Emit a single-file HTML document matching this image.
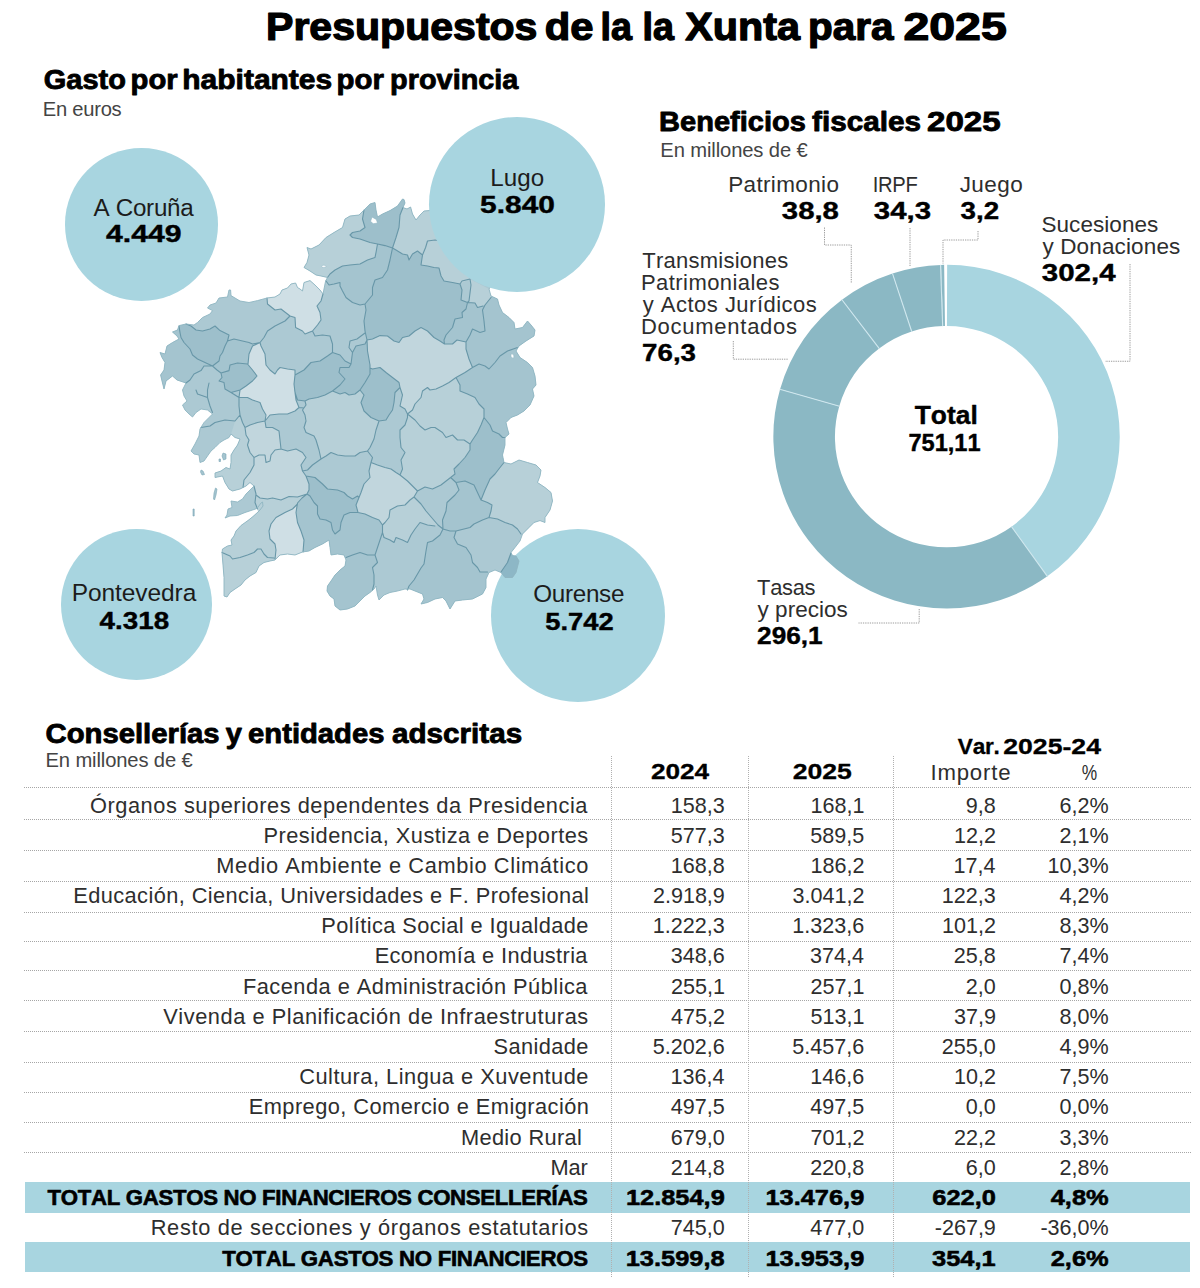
<!DOCTYPE html>
<html lang="es"><head><meta charset="utf-8"><title>Presupuestos de la Xunta para 2025</title>
<style>
html,body{margin:0;padding:0;background:#fff;}
body{width:1200px;height:1288px;position:relative;overflow:hidden;font-family:"Liberation Sans",sans-serif;color:#000;font-kerning:none;}
.tx text{white-space:pre;font-kerning:none;}
svg{position:absolute;left:0;top:0;}
.circ{position:absolute;border-radius:50%;background:#a8d5e0;}
.hl{position:absolute;left:23.5px;width:1167.5px;height:1px;background:repeating-linear-gradient(90deg,#a6a6a6 0 1px,transparent 1px 2px);}
.vl{position:absolute;top:756px;width:1px;height:521px;background:repeating-linear-gradient(180deg,#b0b0b0 0 1px,transparent 1px 2px);}
.band{position:absolute;left:25px;width:1165px;background:#a8d5e0;}
</style></head><body>
<div class="circ" style="left:64.5px;top:148.4px;width:153px;height:152.4px"></div>
<div class="circ" style="left:60.9px;top:529px;width:151.4px;height:151.2px"></div>
<div class="circ" style="left:491px;top:528.8px;width:174.2px;height:173px"></div>
<svg width="1200" height="1288" viewBox="0 0 1200 1288">
<path d="M404.0 199.5 L405.0 203.0 L403.0 207.5 L407.0 209.0 L410.6 207.0 L412.5 214.0 L416.0 220.0 L420.0 215.0 L424.0 211.0 L429.0 210.6 L440.0 208.0 L470.0 215.0 L500.0 230.0 L505.0 260.0 L495.0 280.0 L489.0 289.0 L491.0 296.0 L497.5 299.0 L499.0 305.0 L502.5 312.5 L509.0 317.5 L514.0 322.5 L515.0 329.0 L522.5 327.5 L527.5 321.0 L531.0 325.0 L535.0 330.0 L534.0 336.0 L526.0 341.0 L519.0 346.0 L516.0 351.0 L520.0 357.5 L527.5 362.5 L532.5 367.5 L535.0 376.0 L536.0 385.0 L532.5 389.0 L534.0 396.0 L530.0 405.0 L524.0 411.0 L517.5 415.0 L511.0 417.5 L506.0 422.5 L507.5 429.0 L509.0 434.0 L505.0 437.5 L505.0 445.0 L502.5 455.0 L504.0 462.5 L511.0 464.0 L519.0 460.0 L527.5 462.5 L536.0 465.0 L541.0 470.0 L540.0 476.0 L537.5 482.5 L545.0 487.5 L551.0 492.5 L552.5 501.0 L550.0 510.0 L545.0 517.5 L545.0 522.5 L540.0 520.6 L534.0 522.5 L529.0 527.5 L522.5 534.0 L520.0 541.0 L515.0 547.5 L511.0 552.5 L512.5 555.6 L516.0 556.0 L519.0 561.0 L516.0 572.5 L512.5 577.5 L505.0 577.5 L501.0 572.5 L495.0 570.0 L489.0 572.5 L486.0 579.0 L486.0 587.5 L482.5 594.0 L472.5 599.0 L462.5 600.0 L455.0 601.0 L450.0 609.0 L446.0 601.0 L442.5 597.5 L435.0 599.0 L427.5 602.5 L421.0 604.0 L424.0 599.0 L422.5 594.0 L415.0 591.0 L410.0 589.0 L405.0 589.0 L397.5 591.0 L390.0 592.5 L384.0 595.0 L379.0 600.0 L377.5 595.0 L376.0 586.0 L374.0 589.0 L370.0 592.5 L365.0 596.0 L360.0 601.0 L355.0 606.0 L347.5 609.0 L340.0 610.0 L335.0 606.0 L334.0 599.0 L330.0 596.0 L327.0 591.0 L327.5 586.0 L331.0 581.0 L335.0 575.0 L340.0 570.0 L345.0 566.0 L346.0 560.0 L344.0 555.0 L337.5 554.0 L331.0 555.0 L330.0 547.5 L329.0 540.0 L322.5 544.0 L315.0 547.5 L309.0 551.0 L302.5 552.0 L295.0 555.0 L287.5 554.0 L280.0 555.0 L275.0 560.0 L270.0 561.0 L264.0 562.5 L259.0 566.0 L256.0 572.5 L250.0 576.0 L245.0 580.0 L241.0 585.0 L235.0 589.0 L230.0 592.5 L227.0 597.0 L224.0 596.0 L224.0 590.0 L224.0 577.5 L223.0 565.0 L222.0 552.5 L222.5 549.0 L227.5 546.0 L232.0 545.0 L231.0 540.0 L234.0 536.0 L236.0 531.0 L241.0 525.5 L248.0 520.5 L253.0 516.5 L258.0 512.0 L260.0 510.0 L263.0 506.0 L262.5 502.0 L261.0 503.0 L257.0 508.5 L251.0 510.5 L245.0 512.5 L237.5 515.5 L230.0 516.0 L225.0 518.0 L227.0 515.0 L228.0 509.0 L232.0 507.5 L231.0 501.0 L237.5 502.0 L242.5 499.0 L246.0 494.0 L250.0 490.0 L254.0 486.0 L250.0 482.5 L246.0 486.0 L240.0 489.0 L232.5 491.0 L229.0 489.0 L225.0 482.5 L222.5 476.0 L215.0 477.5 L215.0 473.0 L221.0 471.0 L226.0 467.5 L230.0 469.0 L231.0 462.5 L231.0 455.0 L234.0 450.0 L237.5 445.0 L240.0 439.0 L235.0 437.5 L231.0 434.0 L229.0 437.5 L224.0 440.0 L220.0 442.5 L215.0 447.5 L211.0 451.0 L207.5 456.0 L204.0 461.0 L200.0 462.5 L199.0 455.0 L194.0 454.0 L191.0 451.0 L195.0 444.0 L199.0 436.0 L200.0 429.0 L204.0 422.5 L209.0 417.5 L212.5 414.0 L207.5 410.0 L201.0 409.0 L196.0 412.5 L192.5 417.0 L189.0 414.0 L185.0 410.0 L182.5 405.0 L187.0 401.0 L184.0 396.0 L182.5 390.0 L186.0 383.0 L177.0 380.0 L172.5 376.0 L166.0 381.0 L164.0 389.0 L162.0 381.0 L160.6 375.0 L164.0 370.0 L165.0 362.5 L162.0 357.5 L160.0 352.5 L165.0 354.0 L167.0 346.0 L172.5 342.5 L179.0 339.0 L177.0 336.0 L172.5 332.0 L177.5 330.0 L179.0 325.6 L186.0 324.0 L194.0 325.0 L197.5 322.5 L202.5 317.5 L210.0 314.0 L212.5 310.6 L207.5 308.0 L210.0 305.0 L216.0 303.0 L219.0 298.0 L227.5 297.0 L229.0 290.0 L230.6 290.0 L231.0 295.6 L235.0 298.0 L240.0 301.0 L249.0 302.5 L257.5 300.6 L267.0 298.0 L275.0 297.0 L280.0 294.0 L282.0 290.0 L287.5 288.0 L291.0 284.0 L295.6 283.0 L297.5 287.5 L300.0 289.0 L302.5 291.0 L304.0 282.5 L310.0 280.6 L315.0 285.0 L320.0 290.0 L323.0 294.0 L325.6 281.0 L327.5 277.5 L321.0 276.0 L316.0 275.0 L310.0 271.0 L304.0 267.5 L307.0 262.5 L309.0 255.0 L307.0 247.5 L311.0 249.0 L319.0 245.0 L326.0 237.5 L334.0 232.5 L342.5 227.5 L345.0 219.0 L350.0 216.0 L359.0 215.0 L364.0 210.0 L370.0 204.0 L375.0 202.5 L376.0 210.0 L377.5 217.0 L382.5 214.0 L390.0 210.6 L397.5 206.0 L402.5 199.0Z" fill="#acc9d3"/>
<path d="M201.0 470.0 L203.0 471.0 L204.5 474.5 L202.0 475.0 L200.5 472.0Z" fill="#a4c4cf"/>
<path d="M215.5 488.0 L217.0 489.0 L216.0 495.0 L214.5 500.0 L213.5 499.0 L214.0 493.0Z" fill="#a4c4cf"/>
<path d="M223.0 453.0 L226.0 454.0 L226.0 459.0 L223.5 460.0 L222.0 456.0Z" fill="#a4c4cf"/>
<path d="M219.0 459.0 L220.5 459.0 L220.5 461.5 L219.0 461.5Z" fill="#a4c4cf"/>
<path d="M193.0 509.0 L194.2 509.0 L194.2 516.0 L193.0 516.0Z" fill="#a4c4cf"/>
<path d="M267.0 298.0 L275.0 297.0 L280.0 294.0 L282.0 290.0 L287.5 288.0 L291.0 284.0 L295.6 283.0 L297.5 287.5 L300.0 289.0 L302.5 291.0 L304.0 282.5 L310.0 280.6 L315.0 285.0 L320.0 290.0 L323.0 294.0 L323.0 294.0 L321.0 301.0 L317.0 306.0 L320.0 312.5 L321.0 320.0 L317.5 325.0 L312.5 331.0 L312.5 331.0 L305.0 334.0 L302.5 331.0 L295.6 327.5 L295.0 317.5 L290.0 316.0 L290.0 316.0 L281.0 309.0 L275.0 310.0 L267.5 304.0 L267.0 298.0Z" fill="#cfdfe5"/>
<path d="M260.0 342.5 L252.5 346.0 L249.0 354.0 L248.0 364.0 L252.5 370.0 L257.0 376.0 L252.5 381.0 L246.0 386.0 L240.0 390.0 L240.0 390.0 L239.0 397.5 L239.0 397.5 L247.5 397.5 L252.5 400.0 L260.0 402.5 L262.5 409.0 L266.0 415.0 L265.0 421.0 L265.0 421.0 L270.0 415.0 L279.0 414.0 L287.5 414.0 L295.0 411.0 L299.0 407.5 L299.0 407.5 L296.0 400.0 L295.0 392.5 L294.0 384.0 L295.0 375.0 L295.0 375.0 L295.0 370.0 L287.5 369.0 L280.0 367.5 L277.5 370.0 L275.0 374.0 L270.0 370.0 L266.0 365.0 L265.0 354.0 L261.0 346.0 L260.0 342.5Z" fill="#cfdfe5"/>
<path d="M297.5 504.0 L292.5 509.0 L285.0 512.5 L276.0 517.5 L271.0 524.0 L269.0 531.0 L270.0 539.0 L275.0 544.0 L276.0 550.0 L275.0 559.0 L280.0 555.0 L287.5 554.0 L295.0 555.0 L302.5 552.0 L303.0 552.0 L304.0 540.0 L301.0 531.0 L297.5 522.5 L296.0 512.5 L297.5 503.0Z" fill="#cfdfe5"/>
<path d="M367.0 340.0 L372.5 339.0 L380.0 335.6 L387.5 336.0 L394.0 341.0 L399.0 342.5 L402.5 337.5 L409.0 336.0 L415.0 331.0 L421.0 327.5 L427.5 331.0 L434.0 337.5 L440.0 341.0 L444.5 344.0 L444.5 344.0 L452.5 344.0 L457.0 340.0 L466.0 342.0 L466.0 349.0 L469.0 359.0 L472.5 367.5 L472.5 367.5 L465.0 372.5 L456.0 377.5 L449.0 382.5 L442.5 386.0 L436.0 389.0 L430.0 390.0 L427.5 387.5 L422.5 391.0 L421.0 397.5 L415.0 404.0 L412.5 410.0 L407.5 414.0 L407.5 414.0 L405.0 409.0 L400.0 406.0 L402.5 395.0 L400.0 387.5 L399.0 382.5 L392.5 377.5 L386.0 372.5 L380.0 367.5 L372.5 369.0 L370.0 368.0 L370.0 365.0 L367.5 351.0Z" fill="#c1d6dd"/>
<path d="M371.0 462.5 L377.5 465.0 L385.0 467.5 L391.0 469.0 L396.0 472.5 L400.0 475.0 L407.5 481.0 L414.0 487.5 L417.5 491.0 L414.0 497.0 L414.0 497.0 L410.0 500.0 L405.0 505.0 L397.5 506.0 L390.0 510.0 L389.0 517.5 L385.0 522.5 L382.5 525.0 L382.5 525.0 L379.0 520.0 L372.5 517.5 L365.0 514.0 L358.0 512.5 L358.0 512.5 L356.0 505.0 L359.0 497.5 L361.0 492.5 L364.0 484.0 L370.0 477.5 L369.0 471.0 L371.0 462.5Z" fill="#c1d6dd"/>
<path d="M245.0 427.5 L250.0 425.0 L257.5 422.5 L265.0 421.0 L265.0 421.0 L266.0 427.5 L272.5 427.5 L279.0 431.0 L280.0 440.0 L281.0 449.0 L281.0 449.0 L275.0 450.0 L271.0 455.0 L270.0 461.0 L266.0 462.5 L265.0 455.0 L259.0 455.0 L254.0 457.5 L254.0 457.5 L250.0 452.5 L247.5 445.0 L249.0 440.0 L246.0 435.0 L245.0 427.5Z" fill="#c1d6dd"/>
<path d="M254.0 457.5 L259.0 455.0 L265.0 455.0 L266.0 462.5 L270.0 461.0 L271.0 455.0 L275.0 450.0 L281.0 449.0 L281.0 449.0 L287.5 451.0 L296.0 449.0 L302.5 452.5 L306.0 457.5 L301.0 465.0 L302.5 471.0 L302.5 471.0 L306.0 476.0 L309.0 484.0 L309.0 490.0 L307.0 494.0 L307.0 494.0 L297.5 497.0 L289.0 496.5 L281.0 500.0 L272.5 498.0 L267.5 499.0 L260.0 498.0 L256.0 495.0 L256.0 494.0 L254.0 486.0 L254.0 486.0 L250.0 482.5 L246.0 486.0 L243.0 487.5 L244.0 480.0 L250.0 472.5 L254.0 465.0 L254.0 457.5Z" fill="#c1d6dd"/>
<path d="M327.5 277.5 L321.0 276.0 L316.0 275.0 L310.0 271.0 L304.0 267.5 L307.0 262.5 L309.0 255.0 L307.0 247.5 L311.0 249.0 L319.0 245.0 L326.0 237.5 L334.0 232.5 L342.5 227.5 L345.0 219.0 L350.0 216.0 L359.0 215.0 L364.0 210.0 L364.0 210.0 L362.5 219.0 L365.0 227.5 L360.0 231.0 L352.5 232.5 L350.0 235.0 L352.5 237.5 L360.0 239.0 L370.0 242.5 L377.5 244.0 L377.5 244.0 L376.0 252.5 L375.0 257.5 L367.5 260.0 L360.0 264.0 L350.0 265.0 L342.5 266.0 L335.0 270.0 L330.0 274.0 L327.5 277.5Z" fill="#b7d0d8"/>
<path d="M403.0 207.5 L407.0 209.0 L410.6 207.0 L412.5 214.0 L416.0 220.0 L420.0 215.0 L424.0 211.0 L429.0 210.6 L440.0 208.0 L470.0 215.0 L500.0 230.0 L505.0 260.0 L460.0 284.0 L452.5 282.5 L444.0 281.0 L441.0 276.0 L439.0 268.0 L434.0 267.5 L427.5 266.0 L421.0 265.0 L422.5 255.0 L417.5 251.0 L412.5 254.0 L409.0 260.0 L407.5 255.0 L402.5 254.0 L396.0 250.0 L392.5 248.0 L392.5 248.0 L396.0 237.5 L399.0 227.5 L400.0 215.0 L403.0 207.5Z" fill="#b7d0d8"/>
<path d="M470.0 279.0 L489.0 289.0 L491.0 297.5 L485.0 305.0 L483.0 306.0 L483.0 306.0 L477.5 307.5 L475.0 303.0 L467.5 302.5 L469.0 301.0 L471.0 285.0Z" fill="#b7d0d8"/>
<path d="M305.0 401.0 L309.0 399.0 L317.5 397.5 L325.0 395.0 L332.5 391.0 L340.0 394.0 L345.0 392.5 L349.0 395.0 L355.0 394.0 L360.0 390.0 L364.0 395.0 L361.0 402.5 L364.0 411.0 L371.0 417.5 L379.0 421.0 L376.0 430.0 L374.0 439.0 L370.0 447.5 L367.5 451.0 L360.0 452.5 L355.0 456.0 L345.0 456.0 L337.5 455.0 L331.0 452.5 L326.0 456.0 L321.0 459.0 L319.0 450.0 L316.0 440.0 L314.0 436.0 L306.0 432.5 L304.0 427.5 L306.0 421.0 L305.0 415.0 L302.5 410.0 L306.0 405.0 L305.0 401.0Z" fill="#b7d0d8"/>
<path d="M504.0 462.5 L511.0 464.0 L519.0 460.0 L527.5 462.5 L536.0 465.0 L541.0 470.0 L540.0 476.0 L537.5 482.5 L545.0 487.5 L551.0 492.5 L552.5 501.0 L550.0 510.0 L545.0 517.5 L545.0 522.5 L540.0 520.6 L534.0 522.5 L529.0 527.5 L522.5 534.0 L521.0 534.0 L517.5 529.0 L512.5 525.0 L505.0 522.5 L497.5 519.0 L489.0 517.5 L489.0 517.5 L491.0 511.0 L492.0 505.0 L487.5 502.5 L481.0 500.0 L481.0 500.0 L485.0 490.0 L490.0 479.0 L495.0 474.0 L500.0 467.5 L504.0 462.5Z" fill="#b7d0d8"/>
<path d="M382.5 525.0 L385.0 522.5 L389.0 517.5 L390.0 510.0 L397.5 506.0 L405.0 505.0 L410.0 500.0 L414.0 497.0 L414.0 497.0 L421.0 504.0 L426.0 511.0 L432.0 518.0 L438.0 525.0 L435.0 526.0 L427.5 525.0 L420.0 522.5 L415.0 529.0 L411.0 535.0 L407.5 542.5 L402.5 540.0 L396.0 537.5 L394.0 542.5 L390.0 540.0 L384.0 537.5 L382.5 532.5Z" fill="#b7d0d8"/>
<path d="M456.0 377.5 L460.0 385.0 L460.0 391.0 L467.5 394.0 L475.0 397.5 L479.0 404.0 L484.0 409.0 L484.0 417.5 L484.0 417.5 L481.0 425.0 L477.5 432.5 L472.5 440.0 L470.0 444.0 L470.0 444.0 L464.0 440.0 L457.5 440.0 L452.5 435.0 L446.0 437.5 L442.5 432.5 L435.0 427.5 L431.0 427.5 L425.0 430.0 L420.0 426.0 L415.0 420.0 L407.5 414.0 L407.5 414.0 L412.5 410.0 L415.0 404.0 L421.0 397.5 L422.5 391.0 L427.5 387.5 L430.0 390.0 L436.0 389.0 L442.5 386.0 L449.0 382.5 L456.0 377.5Z" fill="#b7d0d8"/>
<path d="M256.0 495.0 L260.0 498.0 L267.5 499.0 L272.5 498.0 L281.0 500.0 L289.0 496.5 L297.5 497.0 L307.0 494.0 L302.0 498.0 L297.5 504.0 L297.5 504.0 L292.5 509.0 L285.0 512.5 L276.0 517.5 L271.0 524.0 L269.0 531.0 L270.0 539.0 L275.0 544.0 L276.0 550.0 L275.0 559.0 L275.0 560.0 L270.0 561.0 L264.0 562.5 L259.0 566.0 L256.0 572.5 L250.0 576.0 L245.0 580.0 L241.0 585.0 L235.0 589.0 L230.0 592.5 L227.0 597.0 L224.0 596.0 L224.0 590.0 L224.0 577.5 L223.0 565.0 L222.0 552.5 L222.5 549.0 L227.5 546.0 L232.0 545.0 L231.0 540.0 L234.0 536.0 L236.0 531.0 L241.0 525.5 L248.0 520.5 L253.0 516.5 L258.0 512.0 L257.5 509.0 L255.0 502.5Z" fill="#b7d0d8"/>
<path d="M246.0 486.0 L240.0 489.0 L232.5 491.0 L229.0 489.0 L225.0 482.5 L222.5 476.0 L215.0 477.5 L215.0 473.0 L221.0 471.0 L226.0 467.5 L230.0 469.0 L231.0 462.5 L231.0 455.0 L234.0 450.0 L237.5 445.0 L240.0 439.0 L235.0 437.5 L231.0 434.0 L233.0 428.0 L235.0 421.0 L240.0 415.0 L242.5 422.5 L245.0 427.5 L245.0 427.5 L246.0 435.0 L249.0 440.0 L247.5 445.0 L250.0 452.5 L254.0 457.5 L254.0 457.5 L254.0 465.0 L250.0 472.5 L244.0 480.0 L243.0 487.5Z" fill="#b7d0d8"/>
<path d="M364.0 210.0 L370.0 204.0 L375.0 202.5 L376.0 210.0 L377.5 217.0 L382.5 214.0 L390.0 210.6 L397.5 206.0 L402.5 199.0 L404.0 199.5 L405.0 203.0 L403.0 207.5 L403.0 207.5 L400.0 215.0 L399.0 227.5 L396.0 237.5 L392.5 248.0 L392.5 248.0 L385.0 245.6 L377.5 244.0 L370.0 242.5 L360.0 239.0 L352.5 237.5 L350.0 235.0 L350.0 235.0 L352.5 232.5 L360.0 231.0 L365.0 227.5 L362.5 219.0 L364.0 210.0Z" fill="#9dbfcb"/>
<path d="M392.5 248.0 L390.0 260.0 L387.5 270.0 L382.5 277.5 L375.0 280.0 L372.5 287.5 L372.5 295.0 L367.5 301.0 L365.0 304.0 L365.0 304.0 L366.0 310.0 L364.0 321.0 L365.0 331.0 L367.0 340.0 L367.0 340.0 L372.5 339.0 L380.0 335.6 L387.5 336.0 L394.0 341.0 L399.0 342.5 L402.5 337.5 L409.0 336.0 L415.0 331.0 L421.0 327.5 L427.5 331.0 L434.0 337.5 L440.0 341.0 L444.5 344.0 L444.5 344.0 L444.0 340.0 L446.0 335.0 L452.5 327.5 L455.0 319.0 L462.5 317.5 L462.0 312.5 L466.0 309.0 L467.5 302.5 L461.0 300.0 L462.0 290.0 L460.0 284.0 L460.0 284.0 L452.5 282.5 L444.0 281.0 L441.0 276.0 L439.0 268.0 L434.0 267.5 L427.5 266.0 L421.0 265.0 L422.5 255.0 L417.5 251.0 L412.5 254.0 L409.0 260.0 L407.5 255.0 L402.5 254.0 L396.0 250.0 L392.5 248.0Z" fill="#9dbfcb"/>
<path d="M377.5 244.0 L385.0 245.6 L392.5 248.0 L390.0 260.0 L387.5 270.0 L382.5 277.5 L375.0 280.0 L372.5 287.5 L372.5 295.0 L367.5 301.0 L365.0 304.0 L365.0 304.0 L360.0 305.0 L352.5 302.5 L346.0 297.5 L342.5 291.0 L340.0 286.0 L340.0 282.5 L334.0 284.0 L329.0 285.0 L326.0 281.0 L325.6 281.0 L327.5 277.5 L327.5 277.5 L330.0 274.0 L335.0 270.0 L342.5 266.0 L350.0 265.0 L360.0 264.0 L367.5 260.0 L375.0 257.5 L376.0 252.5 L377.5 244.0Z" fill="#a4c4cf"/>
<path d="M295.0 375.0 L304.0 370.0 L311.0 362.5 L320.0 361.0 L327.5 356.0 L332.5 352.5 L340.0 355.0 L345.0 361.0 L351.0 364.0 L349.0 367.5 L340.0 367.5 L339.0 372.5 L345.0 379.0 L340.0 385.0 L332.5 391.0 L325.0 395.0 L317.5 397.5 L309.0 399.0 L305.0 401.0 L297.5 400.0 L295.0 392.5 L294.0 384.0 L295.0 375.0Z" fill="#9dbfcb"/>
<path d="M351.0 364.0 L352.5 352.5 L356.0 346.0 L365.0 344.0 L367.0 340.0 L367.5 351.0 L370.0 365.0 L370.0 374.0 L365.0 382.5 L360.0 390.0 L355.0 394.0 L349.0 395.0 L345.0 392.5 L340.0 394.0 L332.5 391.0 L340.0 385.0 L345.0 379.0 L339.0 372.5 L340.0 367.5 L349.0 367.5 L351.0 364.0Z" fill="#9dbfcb"/>
<path d="M370.0 368.0 L372.5 369.0 L380.0 367.5 L386.0 372.5 L392.5 377.5 L399.0 382.5 L400.0 387.5 L395.0 392.5 L394.0 402.5 L392.5 410.0 L389.0 415.0 L386.0 420.0 L379.0 421.0 L371.0 417.5 L364.0 411.0 L361.0 402.5 L364.0 395.0 L360.0 390.0 L365.0 382.5 L370.0 374.0Z" fill="#9dbfcb"/>
<path d="M230.0 365.0 L237.5 363.0 L247.5 364.0 L252.5 370.0 L257.0 376.0 L252.5 381.0 L246.0 386.0 L240.0 390.0 L231.0 392.5 L225.0 389.0 L224.0 382.5 L219.0 381.0 L222.0 377.5 L221.0 373.0 L229.0 370.6 L230.0 365.0Z" fill="#9dbfcb"/>
<path d="M227.5 341.0 L234.0 339.0 L242.5 341.0 L249.0 342.5 L252.5 344.0 L260.0 342.5 L260.0 342.5 L252.5 346.0 L249.0 354.0 L248.0 364.0 L247.5 364.0 L237.5 363.0 L230.0 365.0 L229.0 370.6 L221.0 373.0 L221.0 373.0 L217.0 370.0 L212.5 366.0 L212.5 366.0 L219.0 361.0 L220.0 356.0 L222.5 352.5 L225.0 346.0 L227.5 341.0Z" fill="#a4c4cf"/>
<path d="M186.0 383.0 L177.0 380.0 L172.5 376.0 L166.0 381.0 L164.0 389.0 L162.0 381.0 L160.6 375.0 L164.0 370.0 L165.0 362.5 L162.0 357.5 L160.0 352.5 L165.0 354.0 L167.0 346.0 L172.5 342.5 L179.0 339.0 L177.0 336.0 L172.5 332.0 L177.5 330.0 L179.0 325.6 L179.0 326.0 L180.0 332.5 L181.0 337.5 L184.0 342.5 L190.0 349.0 L192.5 355.0 L197.5 359.0 L205.0 362.5 L212.5 366.0 L212.5 366.0 L204.0 366.0 L201.0 370.6 L194.0 374.0 L190.0 380.0 L186.0 383.0Z" fill="#a4c4cf"/>
<path d="M227.5 341.0 L229.0 335.0 L220.0 330.6 L215.0 326.0 L210.0 329.0 L202.5 331.0 L196.0 330.0 L191.0 326.0 L186.0 324.0 L179.0 326.0 L179.0 326.0 L180.0 332.5 L181.0 337.5 L184.0 342.5 L190.0 349.0 L192.5 355.0 L197.5 359.0 L205.0 362.5 L212.5 366.0 L212.5 366.0 L219.0 361.0 L220.0 356.0 L222.5 352.5 L225.0 346.0 L227.5 341.0Z" fill="#9dbfcb"/>
<path d="M329.0 540.0 L322.5 544.0 L315.0 547.5 L309.0 551.0 L302.5 552.0 L303.0 552.0 L304.0 540.0 L301.0 531.0 L297.5 522.5 L296.0 512.5 L297.5 503.0 L302.0 498.0 L307.0 494.0 L310.0 496.0 L314.0 502.5 L317.5 506.0 L317.5 514.0 L320.0 519.0 L326.0 520.0 L331.0 522.5 L332.5 530.0Z" fill="#a4c4cf"/>
<path d="M306.0 476.0 L315.0 477.5 L322.5 484.0 L327.5 489.0 L337.5 490.0 L344.0 492.5 L347.5 496.0 L352.5 499.0 L357.5 496.0 L359.0 497.5 L356.0 505.0 L358.0 512.5 L358.0 512.5 L350.0 512.5 L344.0 515.0 L341.0 522.5 L340.0 530.0 L335.0 534.0 L332.5 530.0 L331.0 522.5 L326.0 520.0 L320.0 519.0 L317.5 514.0 L317.5 506.0 L314.0 502.5 L310.0 496.0 L307.0 494.0 L307.0 494.0 L309.0 490.0 L309.0 484.0 L306.0 476.0Z" fill="#9dbfcb"/>
<path d="M358.0 512.5 L365.0 514.0 L372.5 517.5 L379.0 520.0 L382.5 525.0 L382.5 525.0 L382.5 532.5 L380.0 540.0 L377.5 547.5 L375.0 555.0 L375.0 555.0 L367.5 555.0 L360.0 552.5 L352.5 555.0 L346.0 557.5 L346.0 560.0 L344.0 555.0 L337.5 554.0 L331.0 555.0 L330.0 547.5 L329.0 540.0 L332.5 530.0 L335.0 534.0 L340.0 530.0 L341.0 522.5 L344.0 515.0 L350.0 512.5Z" fill="#a4c4cf"/>
<path d="M346.0 557.5 L352.5 555.0 L360.0 552.5 L367.5 555.0 L375.0 555.0 L375.0 555.0 L377.5 562.5 L372.5 567.5 L374.0 575.0 L374.0 584.0 L372.5 590.0 L374.0 589.0 L370.0 592.5 L365.0 596.0 L360.0 601.0 L355.0 606.0 L347.5 609.0 L340.0 610.0 L335.0 606.0 L334.0 599.0 L330.0 596.0 L327.0 591.0 L327.5 586.0 L331.0 581.0 L335.0 575.0 L340.0 570.0 L345.0 566.0 L346.0 560.0Z" fill="#a4c4cf"/>
<path d="M484.0 417.5 L490.0 425.0 L492.5 431.0 L499.0 434.0 L502.5 437.5 L505.0 437.5 L505.0 437.5 L505.0 445.0 L502.5 455.0 L504.0 462.5 L504.0 462.5 L500.0 467.5 L495.0 474.0 L490.0 479.0 L485.0 490.0 L481.0 500.0 L481.0 500.0 L477.5 492.5 L474.0 485.0 L465.0 481.0 L456.0 482.5 L450.6 477.5 L450.6 477.5 L455.0 474.0 L454.0 469.0 L459.0 464.0 L465.0 457.5 L470.0 450.0 L470.0 444.0 L470.0 444.0 L472.5 440.0 L477.5 432.5 L481.0 425.0 L484.0 417.5Z" fill="#9dbfcb"/>
<path d="M491.0 296.0 L497.5 299.0 L499.0 305.0 L502.5 312.5 L509.0 317.5 L514.0 322.5 L515.0 329.0 L522.5 327.5 L527.5 321.0 L531.0 325.0 L535.0 330.0 L534.0 336.0 L526.0 341.0 L519.0 346.0 L517.5 347.5 L507.5 351.0 L500.0 356.0 L495.0 362.5 L489.0 369.0 L485.0 366.0 L479.0 364.0 L472.5 367.5 L472.5 367.5 L469.0 359.0 L466.0 349.0 L466.0 342.0 L470.0 335.0 L472.5 329.0 L480.0 332.5 L485.0 331.0 L484.0 321.0 L482.5 310.0 L485.0 305.0 L491.0 297.5Z" fill="#a4c4cf"/>
<path d="M467.5 302.5 L475.0 303.0 L477.5 307.5 L483.0 306.0 L485.0 305.0 L485.0 305.0 L482.5 310.0 L484.0 321.0 L485.0 331.0 L480.0 332.5 L472.5 329.0 L470.0 335.0 L466.0 342.0 L466.0 342.0 L457.0 340.0 L452.5 344.0 L444.5 344.0 L444.5 344.0 L444.0 340.0 L446.0 335.0 L452.5 327.5 L455.0 319.0 L462.5 317.5 L462.0 312.5 L466.0 309.0 L467.5 302.5Z" fill="#a4c4cf"/>
<path d="M472.5 367.5 L479.0 364.0 L485.0 366.0 L489.0 369.0 L495.0 362.5 L500.0 356.0 L507.5 351.0 L517.5 347.5 L519.0 346.0 L516.0 351.0 L520.0 357.5 L527.5 362.5 L532.5 367.5 L535.0 376.0 L536.0 385.0 L532.5 389.0 L534.0 396.0 L530.0 405.0 L524.0 411.0 L517.5 415.0 L511.0 417.5 L506.0 422.5 L507.5 429.0 L509.0 434.0 L505.0 437.5 L505.0 437.5 L502.5 437.5 L499.0 434.0 L492.5 431.0 L490.0 425.0 L484.0 417.5 L484.0 417.5 L484.0 409.0 L479.0 404.0 L475.0 397.5 L467.5 394.0 L460.0 391.0 L460.0 385.0 L456.0 377.5 L456.0 377.5 L465.0 372.5 L472.5 367.5Z" fill="#a4c4cf"/>
<path d="M443.0 529.0 L440.0 535.0 L432.5 541.0 L427.5 542.5 L426.0 551.0 L424.0 564.0 L421.0 568.0 L417.5 574.0 L414.0 580.0 L409.0 586.0 L407.5 590.0 L405.0 589.0 L410.0 589.0 L415.0 591.0 L422.5 594.0 L424.0 599.0 L421.0 604.0 L427.5 602.5 L435.0 599.0 L442.5 597.5 L446.0 601.0 L450.0 609.0 L455.0 601.0 L462.5 600.0 L472.5 599.0 L482.5 594.0 L486.0 587.5 L486.0 579.0 L489.0 572.5 L487.5 572.0 L480.0 572.0 L477.5 567.5 L472.5 562.5 L471.0 555.0 L466.0 547.5 L457.5 544.0 L454.0 537.5 L456.0 531.0 L456.0 531.0 L450.0 531.0 L443.0 529.0Z" fill="#a4c4cf"/>
<path d="M456.0 482.5 L459.0 490.0 L455.0 495.0 L447.0 502.5 L446.0 511.0 L442.5 520.0 L443.0 529.0 L443.0 529.0 L450.0 531.0 L456.0 531.0 L464.0 529.0 L470.0 527.5 L474.0 524.0 L482.5 520.0 L489.0 517.5 L489.0 517.5 L491.0 511.0 L492.0 505.0 L487.5 502.5 L481.0 500.0 L481.0 500.0 L477.5 492.5 L474.0 485.0 L465.0 481.0 L456.0 482.5Z" fill="#a4c4cf"/>
<path d="M407.5 414.0 L415.0 420.0 L420.0 426.0 L425.0 430.0 L431.0 427.5 L435.0 427.5 L442.5 432.5 L446.0 437.5 L452.5 435.0 L457.5 440.0 L464.0 440.0 L470.0 444.0 L470.0 444.0 L470.0 450.0 L465.0 457.5 L459.0 464.0 L454.0 469.0 L455.0 474.0 L450.6 477.5 L450.6 477.5 L441.0 485.0 L432.5 489.0 L425.0 487.0 L417.5 491.0 L414.0 497.0 L417.5 491.0 L417.5 491.0 L414.0 487.5 L407.5 481.0 L400.0 475.0 L400.0 475.0 L402.5 469.0 L401.0 460.0 L405.0 452.5 L401.0 447.5 L400.0 437.5 L400.0 430.0 L405.0 425.0 L407.5 417.5 L407.5 414.0Z" fill="#b7d0d8"/>
<path d="M511.0 552.5 L512.5 555.6 L516.0 556.0 L519.0 561.0 L516.0 572.5 L512.5 577.5 L505.0 577.5 L501.0 572.5 L507.5 562.5Z" fill="#8db7c6"/>
<path d="M267.0 298.0 L267.5 304.0 L275.0 310.0 L281.0 309.0 L290.0 316.0 M290.0 316.0 L285.0 321.0 L275.0 326.0 L267.5 331.0 L264.0 337.5 L260.0 342.5 M260.0 342.5 L252.5 344.0 L249.0 342.5 L242.5 341.0 L234.0 339.0 L227.5 341.0 M227.5 341.0 L229.0 335.0 L220.0 330.6 L215.0 326.0 L210.0 329.0 L202.5 331.0 L196.0 330.0 L191.0 326.0 L186.0 324.0 M227.5 341.0 L225.0 346.0 L222.5 352.5 L220.0 356.0 L219.0 361.0 L212.5 366.0 M212.5 366.0 L205.0 362.5 L197.5 359.0 L192.5 355.0 L190.0 349.0 L184.0 342.5 L181.0 337.5 L180.0 332.5 L179.0 326.0 M212.5 366.0 L204.0 366.0 L201.0 370.6 L194.0 374.0 L190.0 380.0 L186.0 383.0 M230.0 365.0 L237.5 363.0 L247.5 364.0 L252.5 370.0 L257.0 376.0 L252.5 381.0 L246.0 386.0 L240.0 390.0 L231.0 392.5 L225.0 389.0 L224.0 382.5 L219.0 381.0 L222.0 377.5 L221.0 373.0 L229.0 370.6 L230.0 365.0 M260.0 342.5 L252.5 346.0 L249.0 354.0 L248.0 364.0 M212.5 366.0 L217.0 370.0 L221.0 373.0 M260.0 342.5 L261.0 346.0 L265.0 354.0 L266.0 365.0 L270.0 370.0 L275.0 374.0 L277.5 370.0 L280.0 367.5 L287.5 369.0 L295.0 370.0 L295.0 375.0 M290.0 316.0 L295.0 317.5 L295.6 327.5 L302.5 331.0 L305.0 334.0 L312.5 331.0 M312.5 331.0 L315.0 336.0 L322.5 335.0 L330.0 336.0 L332.5 344.0 L332.5 352.5 M323.0 294.0 L321.0 301.0 L317.0 306.0 L320.0 312.5 L321.0 320.0 L317.5 325.0 L312.5 331.0 M350.0 235.0 L352.5 232.5 L360.0 231.0 L365.0 227.5 L362.5 219.0 L364.0 210.0 M403.0 207.5 L400.0 215.0 L399.0 227.5 L396.0 237.5 L392.5 248.0 M392.5 248.0 L385.0 245.6 L377.5 244.0 L370.0 242.5 L360.0 239.0 L352.5 237.5 L350.0 235.0 M377.5 244.0 L376.0 252.5 L375.0 257.5 L367.5 260.0 L360.0 264.0 L350.0 265.0 L342.5 266.0 L335.0 270.0 L330.0 274.0 L327.5 277.5 M392.5 248.0 L390.0 260.0 L387.5 270.0 L382.5 277.5 L375.0 280.0 L372.5 287.5 L372.5 295.0 L367.5 301.0 L365.0 304.0 M365.0 304.0 L360.0 305.0 L352.5 302.5 L346.0 297.5 L342.5 291.0 L340.0 286.0 L340.0 282.5 L334.0 284.0 L329.0 285.0 L326.0 281.0 M365.0 304.0 L366.0 310.0 L364.0 321.0 L365.0 331.0 L367.0 340.0 M367.0 340.0 L367.5 351.0 L370.0 365.0 L370.0 374.0 L365.0 382.5 L360.0 390.0 M392.5 248.0 L396.0 250.0 L402.5 254.0 L407.5 255.0 L409.0 260.0 L412.5 254.0 L417.5 251.0 L422.5 255.0 L421.0 265.0 L427.5 266.0 L434.0 267.5 L439.0 268.0 L441.0 276.0 L444.0 281.0 L452.5 282.5 L460.0 284.0 M422.5 255.0 L425.6 247.5 L427.5 241.0 L435.0 240.0 L441.0 241.0 M460.0 284.0 L462.0 290.0 L461.0 300.0 L467.5 302.5 L466.0 309.0 L462.0 312.5 L462.5 317.5 L455.0 319.0 L452.5 327.5 L446.0 335.0 L444.0 340.0 L444.5 344.0 M460.0 284.0 L462.0 281.0 L470.0 279.0 L471.0 285.0 L469.0 301.0 L467.5 302.5 M467.5 302.5 L475.0 303.0 L477.5 307.5 L483.0 306.0 M491.0 297.5 L485.0 305.0 L482.5 310.0 L484.0 321.0 L485.0 331.0 L480.0 332.5 L472.5 329.0 L470.0 335.0 L466.0 342.0 L466.0 349.0 L469.0 359.0 L472.5 367.5 M367.0 340.0 L372.5 339.0 L380.0 335.6 L387.5 336.0 L394.0 341.0 L399.0 342.5 L402.5 337.5 L409.0 336.0 L415.0 331.0 L421.0 327.5 L427.5 331.0 L434.0 337.5 L440.0 341.0 L444.5 344.0 M444.5 344.0 L452.5 344.0 L457.0 340.0 L466.0 342.0 M517.5 347.5 L507.5 351.0 L500.0 356.0 L495.0 362.5 L489.0 369.0 L485.0 366.0 L479.0 364.0 L472.5 367.5 M472.5 367.5 L465.0 372.5 L456.0 377.5 L449.0 382.5 L442.5 386.0 L436.0 389.0 L430.0 390.0 L427.5 387.5 L422.5 391.0 L421.0 397.5 L415.0 404.0 L412.5 410.0 L407.5 414.0 M456.0 377.5 L460.0 385.0 L460.0 391.0 L467.5 394.0 L475.0 397.5 L479.0 404.0 L484.0 409.0 L484.0 417.5 M484.0 417.5 L490.0 425.0 L492.5 431.0 L499.0 434.0 L502.5 437.5 L505.0 437.5 M484.0 417.5 L481.0 425.0 L477.5 432.5 L472.5 440.0 L470.0 444.0 M470.0 444.0 L464.0 440.0 L457.5 440.0 L452.5 435.0 L446.0 437.5 L442.5 432.5 L435.0 427.5 L431.0 427.5 L425.0 430.0 L420.0 426.0 L415.0 420.0 L407.5 414.0 M470.0 444.0 L470.0 450.0 L465.0 457.5 L459.0 464.0 L454.0 469.0 L455.0 474.0 L450.6 477.5 M450.6 477.5 L441.0 485.0 L432.5 489.0 L425.0 487.0 L417.5 491.0 L414.0 497.0 M450.6 477.5 L456.0 482.5 L459.0 490.0 L455.0 495.0 L447.0 502.5 L446.0 511.0 L442.5 520.0 L443.0 529.0 M456.0 482.5 L465.0 481.0 L474.0 485.0 L477.5 492.5 L481.0 500.0 M504.0 462.5 L500.0 467.5 L495.0 474.0 L490.0 479.0 L485.0 490.0 L481.0 500.0 M481.0 500.0 L487.5 502.5 L492.0 505.0 L491.0 511.0 L489.0 517.5 M489.0 517.5 L497.5 519.0 L505.0 522.5 L512.5 525.0 L517.5 529.0 L521.0 534.0 M489.0 517.5 L482.5 520.0 L474.0 524.0 L470.0 527.5 L464.0 529.0 L456.0 531.0 L450.0 531.0 L443.0 529.0 M456.0 531.0 L454.0 537.5 L457.5 544.0 L466.0 547.5 L471.0 555.0 L472.5 562.5 L477.5 567.5 L480.0 572.0 L487.5 572.0 M443.0 529.0 L438.0 525.0 L432.0 518.0 L426.0 511.0 L421.0 504.0 L414.0 497.0 M435.0 526.0 L427.5 525.0 L420.0 522.5 L415.0 529.0 L411.0 535.0 L407.5 542.5 L402.5 540.0 L396.0 537.5 L394.0 542.5 L390.0 540.0 L384.0 537.5 L382.5 532.5 M443.0 529.0 L440.0 535.0 L432.5 541.0 L427.5 542.5 L426.0 551.0 L424.0 564.0 L421.0 568.0 L417.5 574.0 L414.0 580.0 L409.0 586.0 L407.5 590.0 M511.0 553.0 L507.5 562.5 L501.0 572.0 M295.0 375.0 L304.0 370.0 L311.0 362.5 L320.0 361.0 L327.5 356.0 L332.5 352.5 L340.0 355.0 L345.0 361.0 L351.0 364.0 L349.0 367.5 L340.0 367.5 L339.0 372.5 L345.0 379.0 L340.0 385.0 L332.5 391.0 L325.0 395.0 L317.5 397.5 L309.0 399.0 L305.0 401.0 L297.5 400.0 L295.0 392.5 L294.0 384.0 L295.0 375.0 M351.0 364.0 L352.5 352.5 L356.0 346.0 L365.0 344.0 L367.0 340.0 L367.5 351.0 L370.0 365.0 L370.0 374.0 L365.0 382.5 L360.0 390.0 L355.0 394.0 L349.0 395.0 L345.0 392.5 L340.0 394.0 L332.5 391.0 L340.0 385.0 L345.0 379.0 L339.0 372.5 L340.0 367.5 L349.0 367.5 L351.0 364.0 M352.5 352.5 L349.0 347.5 L350.0 341.0 L357.0 339.0 L365.0 333.0 M370.0 368.0 L372.5 369.0 L380.0 367.5 L386.0 372.5 L392.5 377.5 L399.0 382.5 L400.0 387.5 L395.0 392.5 L394.0 402.5 L392.5 410.0 L389.0 415.0 L386.0 420.0 L379.0 421.0 L371.0 417.5 L364.0 411.0 L361.0 402.5 L364.0 395.0 L360.0 390.0 M400.0 387.5 L402.5 395.0 L400.0 406.0 L405.0 409.0 L407.5 414.0 M305.0 401.0 L309.0 399.0 L317.5 397.5 L325.0 395.0 L332.5 391.0 L340.0 394.0 L345.0 392.5 L349.0 395.0 L355.0 394.0 L360.0 390.0 L364.0 395.0 L361.0 402.5 L364.0 411.0 L371.0 417.5 L379.0 421.0 L376.0 430.0 L374.0 439.0 L370.0 447.5 L367.5 451.0 L360.0 452.5 L355.0 456.0 L345.0 456.0 L337.5 455.0 L331.0 452.5 L326.0 456.0 L321.0 459.0 L319.0 450.0 L316.0 440.0 L314.0 436.0 L306.0 432.5 L304.0 427.5 L306.0 421.0 L305.0 415.0 L302.5 410.0 L306.0 405.0 L305.0 401.0 M367.5 451.0 L372.5 457.5 L371.0 462.5 L377.5 465.0 L385.0 467.5 L391.0 469.0 L396.0 472.5 L400.0 475.0 M400.0 475.0 L402.5 469.0 L401.0 460.0 L405.0 452.5 L401.0 447.5 L400.0 437.5 L400.0 430.0 L405.0 425.0 L407.5 417.5 L407.5 414.0 M400.0 475.0 L407.5 481.0 L414.0 487.5 L417.5 491.0 M371.0 462.5 L369.0 471.0 L370.0 477.5 L364.0 484.0 L361.0 492.5 L359.0 497.5 L356.0 505.0 L358.0 512.5 M382.5 525.0 L385.0 522.5 L389.0 517.5 L390.0 510.0 L397.5 506.0 L405.0 505.0 L410.0 500.0 L414.0 497.0 M358.0 512.5 L365.0 514.0 L372.5 517.5 L379.0 520.0 L382.5 525.0 M358.0 512.5 L350.0 512.5 L344.0 515.0 L341.0 522.5 L340.0 530.0 L335.0 534.0 L332.5 530.0 L331.0 522.5 L326.0 520.0 L320.0 519.0 L317.5 514.0 L317.5 506.0 L314.0 502.5 L310.0 496.0 L307.0 494.0 M302.5 471.0 L306.0 476.0 L309.0 484.0 L309.0 490.0 L307.0 494.0 M306.0 476.0 L315.0 477.5 L322.5 484.0 L327.5 489.0 L337.5 490.0 L344.0 492.5 L347.5 496.0 L352.5 499.0 L357.5 496.0 L359.0 497.5 M321.0 459.0 L312.5 465.0 L307.5 470.0 L302.5 471.0 M382.5 525.0 L382.5 532.5 L380.0 540.0 L377.5 547.5 L375.0 555.0 L377.5 562.5 L372.5 567.5 L374.0 575.0 L374.0 584.0 L372.5 590.0 M375.0 555.0 L367.5 555.0 L360.0 552.5 L352.5 555.0 L346.0 557.5 M307.0 494.0 L302.0 498.0 L297.5 503.0 L296.0 512.5 L297.5 522.5 L301.0 531.0 L304.0 540.0 L303.0 552.0 M307.0 494.0 L297.5 497.0 L289.0 496.5 L281.0 500.0 L272.5 498.0 L267.5 499.0 L260.0 498.0 L256.0 495.0 M254.0 486.0 L256.0 494.0 L255.0 502.5 L257.5 509.0 M297.5 504.0 L292.5 509.0 L285.0 512.5 L276.0 517.5 L271.0 524.0 L269.0 531.0 L270.0 539.0 L275.0 544.0 L276.0 550.0 L275.0 559.0 M222.0 552.5 L230.0 556.0 L232.5 559.0 L240.0 557.5 L247.5 555.0 L254.0 552.5 L257.5 549.0 L261.0 549.0 L264.0 554.0 L267.5 557.5 L274.0 558.0 M239.0 397.5 L235.0 395.0 L231.0 392.5 M240.0 390.0 L239.0 397.5 M239.0 397.5 L239.0 406.0 L240.0 415.0 L242.5 422.5 L245.0 427.5 M240.0 415.0 L235.0 421.0 L225.0 420.0 L215.0 422.5 L210.0 426.0 L201.0 427.5 M245.0 427.5 L250.0 425.0 L257.5 422.5 L265.0 421.0 M265.0 421.0 L266.0 415.0 L262.5 409.0 L260.0 402.5 L252.5 400.0 L247.5 397.5 L239.0 397.5 M265.0 421.0 L270.0 415.0 L279.0 414.0 L287.5 414.0 L295.0 411.0 L299.0 407.5 L304.0 408.0 M299.0 407.5 L296.0 400.0 L295.0 392.5 M265.0 421.0 L266.0 427.5 L272.5 427.5 L279.0 431.0 L280.0 440.0 L281.0 449.0 M281.0 449.0 L275.0 450.0 L271.0 455.0 L270.0 461.0 L266.0 462.5 L265.0 455.0 L259.0 455.0 L254.0 457.5 M254.0 457.5 L250.0 452.5 L247.5 445.0 L249.0 440.0 L246.0 435.0 L245.0 427.5 M254.0 457.5 L254.0 465.0 L250.0 472.5 L244.0 480.0 L243.0 487.5 M281.0 449.0 L287.5 451.0 L296.0 449.0 L302.5 452.5 L306.0 457.5 L301.0 465.0 L302.5 471.0 M196.0 390.0 L197.5 394.0 L207.5 397.5 L210.0 406.0 L212.5 412.5 M209.0 383.0 L207.5 390.0 L207.5 397.5" fill="none" stroke="#6897a8" stroke-width="1.1" stroke-linejoin="round" stroke-linecap="round"/>
<path d="M404.0 199.5 L405.0 203.0 L403.0 207.5 L407.0 209.0 L410.6 207.0 L412.5 214.0 L416.0 220.0 L420.0 215.0 L424.0 211.0 L429.0 210.6 L440.0 208.0 L470.0 215.0 L500.0 230.0 L505.0 260.0 L495.0 280.0 L489.0 289.0 L491.0 296.0 L497.5 299.0 L499.0 305.0 L502.5 312.5 L509.0 317.5 L514.0 322.5 L515.0 329.0 L522.5 327.5 L527.5 321.0 L531.0 325.0 L535.0 330.0 L534.0 336.0 L526.0 341.0 L519.0 346.0 L516.0 351.0 L520.0 357.5 L527.5 362.5 L532.5 367.5 L535.0 376.0 L536.0 385.0 L532.5 389.0 L534.0 396.0 L530.0 405.0 L524.0 411.0 L517.5 415.0 L511.0 417.5 L506.0 422.5 L507.5 429.0 L509.0 434.0 L505.0 437.5 L505.0 445.0 L502.5 455.0 L504.0 462.5 L511.0 464.0 L519.0 460.0 L527.5 462.5 L536.0 465.0 L541.0 470.0 L540.0 476.0 L537.5 482.5 L545.0 487.5 L551.0 492.5 L552.5 501.0 L550.0 510.0 L545.0 517.5 L545.0 522.5 L540.0 520.6 L534.0 522.5 L529.0 527.5 L522.5 534.0 L520.0 541.0 L515.0 547.5 L511.0 552.5 L512.5 555.6 L516.0 556.0 L519.0 561.0 L516.0 572.5 L512.5 577.5 L505.0 577.5 L501.0 572.5 L495.0 570.0 L489.0 572.5 L486.0 579.0 L486.0 587.5 L482.5 594.0 L472.5 599.0 L462.5 600.0 L455.0 601.0 L450.0 609.0 L446.0 601.0 L442.5 597.5 L435.0 599.0 L427.5 602.5 L421.0 604.0 L424.0 599.0 L422.5 594.0 L415.0 591.0 L410.0 589.0 L405.0 589.0 L397.5 591.0 L390.0 592.5 L384.0 595.0 L379.0 600.0 L377.5 595.0 L376.0 586.0 L374.0 589.0 L370.0 592.5 L365.0 596.0 L360.0 601.0 L355.0 606.0 L347.5 609.0 L340.0 610.0 L335.0 606.0 L334.0 599.0 L330.0 596.0 L327.0 591.0 L327.5 586.0 L331.0 581.0 L335.0 575.0 L340.0 570.0 L345.0 566.0 L346.0 560.0 L344.0 555.0 L337.5 554.0 L331.0 555.0 L330.0 547.5 L329.0 540.0 L322.5 544.0 L315.0 547.5 L309.0 551.0 L302.5 552.0 L295.0 555.0 L287.5 554.0 L280.0 555.0 L275.0 560.0 L270.0 561.0 L264.0 562.5 L259.0 566.0 L256.0 572.5 L250.0 576.0 L245.0 580.0 L241.0 585.0 L235.0 589.0 L230.0 592.5 L227.0 597.0 L224.0 596.0 L224.0 590.0 L224.0 577.5 L223.0 565.0 L222.0 552.5 L222.5 549.0 L227.5 546.0 L232.0 545.0 L231.0 540.0 L234.0 536.0 L236.0 531.0 L241.0 525.5 L248.0 520.5 L253.0 516.5 L258.0 512.0 L260.0 510.0 L263.0 506.0 L262.5 502.0 L261.0 503.0 L257.0 508.5 L251.0 510.5 L245.0 512.5 L237.5 515.5 L230.0 516.0 L225.0 518.0 L227.0 515.0 L228.0 509.0 L232.0 507.5 L231.0 501.0 L237.5 502.0 L242.5 499.0 L246.0 494.0 L250.0 490.0 L254.0 486.0 L250.0 482.5 L246.0 486.0 L240.0 489.0 L232.5 491.0 L229.0 489.0 L225.0 482.5 L222.5 476.0 L215.0 477.5 L215.0 473.0 L221.0 471.0 L226.0 467.5 L230.0 469.0 L231.0 462.5 L231.0 455.0 L234.0 450.0 L237.5 445.0 L240.0 439.0 L235.0 437.5 L231.0 434.0 L229.0 437.5 L224.0 440.0 L220.0 442.5 L215.0 447.5 L211.0 451.0 L207.5 456.0 L204.0 461.0 L200.0 462.5 L199.0 455.0 L194.0 454.0 L191.0 451.0 L195.0 444.0 L199.0 436.0 L200.0 429.0 L204.0 422.5 L209.0 417.5 L212.5 414.0 L207.5 410.0 L201.0 409.0 L196.0 412.5 L192.5 417.0 L189.0 414.0 L185.0 410.0 L182.5 405.0 L187.0 401.0 L184.0 396.0 L182.5 390.0 L186.0 383.0 L177.0 380.0 L172.5 376.0 L166.0 381.0 L164.0 389.0 L162.0 381.0 L160.6 375.0 L164.0 370.0 L165.0 362.5 L162.0 357.5 L160.0 352.5 L165.0 354.0 L167.0 346.0 L172.5 342.5 L179.0 339.0 L177.0 336.0 L172.5 332.0 L177.5 330.0 L179.0 325.6 L186.0 324.0 L194.0 325.0 L197.5 322.5 L202.5 317.5 L210.0 314.0 L212.5 310.6 L207.5 308.0 L210.0 305.0 L216.0 303.0 L219.0 298.0 L227.5 297.0 L229.0 290.0 L230.6 290.0 L231.0 295.6 L235.0 298.0 L240.0 301.0 L249.0 302.5 L257.5 300.6 L267.0 298.0 L275.0 297.0 L280.0 294.0 L282.0 290.0 L287.5 288.0 L291.0 284.0 L295.6 283.0 L297.5 287.5 L300.0 289.0 L302.5 291.0 L304.0 282.5 L310.0 280.6 L315.0 285.0 L320.0 290.0 L323.0 294.0 L325.6 281.0 L327.5 277.5 L321.0 276.0 L316.0 275.0 L310.0 271.0 L304.0 267.5 L307.0 262.5 L309.0 255.0 L307.0 247.5 L311.0 249.0 L319.0 245.0 L326.0 237.5 L334.0 232.5 L342.5 227.5 L345.0 219.0 L350.0 216.0 L359.0 215.0 L364.0 210.0 L370.0 204.0 L375.0 202.5 L376.0 210.0 L377.5 217.0 L382.5 214.0 L390.0 210.6 L397.5 206.0 L402.5 199.0Z" fill="none" stroke="#8fb5c2" stroke-width="0.9" stroke-linejoin="round"/>
<path d="M201.0 470.0 L203.0 471.0 L204.5 474.5 L202.0 475.0 L200.5 472.0Z" fill="none" stroke="#7ba6b5" stroke-width="0.6"/>
<path d="M215.5 488.0 L217.0 489.0 L216.0 495.0 L214.5 500.0 L213.5 499.0 L214.0 493.0Z" fill="none" stroke="#7ba6b5" stroke-width="0.6"/>
<path d="M223.0 453.0 L226.0 454.0 L226.0 459.0 L223.5 460.0 L222.0 456.0Z" fill="none" stroke="#7ba6b5" stroke-width="0.6"/>
<path d="M219.0 459.0 L220.5 459.0 L220.5 461.5 L219.0 461.5Z" fill="none" stroke="#7ba6b5" stroke-width="0.6"/>
<path d="M193.0 509.0 L194.2 509.0 L194.2 516.0 L193.0 516.0Z" fill="none" stroke="#7ba6b5" stroke-width="0.6"/>
<path d="M372 217 L376.3 219.4 L377.5 223 L373.2 223.8 L370.6 221.2Z" fill="#fff" stroke="#8fb5c2" stroke-width="0.6"/>
<ellipse cx="323.8" cy="266.3" rx="2.2" ry="1.1" fill="#fff" stroke="#8fb5c2" stroke-width="0.5"/>
<ellipse cx="512.4" cy="356" rx="1.4" ry="2.2" fill="#fff" stroke="#8fb5c2" stroke-width="0.5" transform="rotate(-20 512.4 356)"/>
</svg>
<div class="circ" style="left:429px;top:117.1px;width:175.6px;height:174.8px"></div>
<svg width="1200" height="1288" viewBox="0 0 1200 1288">
<g transform="translate(946.55 436.65) scale(1 0.992)">
<path d="M0.60 -173.20 A173.2 173.2 0 0 1 100.82 140.83 L64.96 90.74 A111.6 111.6 0 0 0 0.39 -111.60Z" fill="#a8d5e0"/>
<path d="M100.82 140.83 A173.2 173.2 0 0 1 -166.49 -47.74 L-107.28 -30.76 A111.6 111.6 0 0 0 64.96 90.74Z" fill="#8bb8c4"/>
<path d="M-166.49 -47.74 A173.2 173.2 0 0 1 -104.60 -138.05 L-67.40 -88.95 A111.6 111.6 0 0 0 -107.28 -30.76Z" fill="#8bb8c4"/>
<path d="M-104.60 -138.05 A173.2 173.2 0 0 1 -54.10 -164.54 L-34.86 -106.02 A111.6 111.6 0 0 0 -67.40 -88.95Z" fill="#8bb8c4"/>
<path d="M-54.10 -164.54 A173.2 173.2 0 0 1 -5.44 -173.11 L-3.51 -111.54 A111.6 111.6 0 0 0 -34.86 -106.02Z" fill="#8bb8c4"/>
<path d="M-5.44 -173.11 A173.2 173.2 0 0 1 -2.42 -173.18 L-1.56 -111.59 A111.6 111.6 0 0 0 -3.51 -111.54Z" fill="#8bb8c4"/>
<line x1="101.00" y1="141.07" x2="64.79" y2="90.50" stroke="#cfe7ee" stroke-width="1.1"/>
<line x1="-166.78" y1="-47.82" x2="-106.99" y2="-30.68" stroke="#cfe7ee" stroke-width="1.1"/>
<line x1="-104.78" y1="-138.29" x2="-67.21" y2="-88.71" stroke="#cfe7ee" stroke-width="1.1"/>
<line x1="-54.19" y1="-164.82" x2="-34.76" y2="-105.73" stroke="#cfe7ee" stroke-width="1.1"/>
<line x1="-6.06" y1="-173.39" x2="-3.88" y2="-111.23" stroke="#cfe7ee" stroke-width="1.1"/>
</g>
<path d="M824.5 227.5 V245 H851.25 V283.5" fill="none" stroke="#9c9c9c" stroke-width="1" stroke-dasharray="1.3 1"/>
<path d="M910 228 V266" fill="none" stroke="#9c9c9c" stroke-width="1" stroke-dasharray="1.3 1"/>
<path d="M978 231 V240 H943 V263.5" fill="none" stroke="#9c9c9c" stroke-width="1" stroke-dasharray="1.3 1"/>
<path d="M1130 264 V361.25 H1105" fill="none" stroke="#9c9c9c" stroke-width="1" stroke-dasharray="1.3 1"/>
<path d="M733.3 341 V359.2 H788" fill="none" stroke="#9c9c9c" stroke-width="1" stroke-dasharray="1.3 1"/>
<path d="M919.2 609 V623 H858.5" fill="none" stroke="#9c9c9c" stroke-width="1" stroke-dasharray="1.3 1"/>
</svg>
<div class="band" style="top:1182.3px;height:30.3px"></div>
<div class="band" style="top:1241.6px;height:30.3px"></div>
<div class="hl" style="top:786.70px"></div>
<div class="hl" style="top:819.30px"></div>
<div class="hl" style="top:850.20px"></div>
<div class="hl" style="top:880.80px"></div>
<div class="hl" style="top:911.60px"></div>
<div class="hl" style="top:940.90px"></div>
<div class="hl" style="top:969.70px"></div>
<div class="hl" style="top:999.80px"></div>
<div class="hl" style="top:1030.50px"></div>
<div class="hl" style="top:1061.50px"></div>
<div class="hl" style="top:1092.00px"></div>
<div class="hl" style="top:1122.20px"></div>
<div class="hl" style="top:1152.10px"></div>
<div class="vl" style="left:611.00px"></div>
<div class="vl" style="left:748.00px"></div>
<div class="vl" style="left:892.80px"></div>
<svg width="1200" height="1288" viewBox="0 0 1200 1288" class="tx">
<text transform="translate(266.00 40.35) scale(1.0750 1)" font-size="38.2" font-weight="700" stroke="#000" stroke-width="1.25" stroke-linejoin="round">Presupuestos</text>
<text transform="translate(544.69 40.35) scale(1.0934 1)" font-size="38.2" font-weight="700" stroke="#000" stroke-width="1.25" stroke-linejoin="round">de</text>
<text transform="translate(600.62 40.35) scale(0.9870 1)" font-size="38.2" font-weight="700" stroke="#000" stroke-width="1.25" stroke-linejoin="round">la</text>
<text transform="translate(642.62 40.35) scale(0.9870 1)" font-size="38.2" font-weight="700" stroke="#000" stroke-width="1.25" stroke-linejoin="round">la</text>
<text transform="translate(685.14 40.35) scale(1.0823 1)" font-size="38.2" font-weight="700" stroke="#000" stroke-width="1.25" stroke-linejoin="round">Xunta</text>
<text transform="translate(808.08 40.35) scale(1.0585 1)" font-size="38.2" font-weight="700" stroke="#000" stroke-width="1.25" stroke-linejoin="round">para</text>
<text transform="translate(903.39 40.35) scale(1.2042 1)" font-size="38.6" font-weight="700" stroke="#000" stroke-width="1.25" stroke-linejoin="round">2025</text>
<text transform="translate(43.81 89.40) scale(1.0530 1)" font-size="27.5" font-weight="700" stroke="#000" stroke-width="0.85" stroke-linejoin="round">Gasto</text>
<text transform="translate(130.57 89.40) scale(1.0637 1)" font-size="27.5" font-weight="700" stroke="#000" stroke-width="0.85" stroke-linejoin="round">por</text>
<text transform="translate(182.31 89.40) scale(1.0901 1)" font-size="27.5" font-weight="700" stroke="#000" stroke-width="0.85" stroke-linejoin="round">habitantes</text>
<text transform="translate(336.56 89.40) scale(1.0697 1)" font-size="27.5" font-weight="700" stroke="#000" stroke-width="0.85" stroke-linejoin="round">por</text>
<text transform="translate(390.10 89.40) scale(1.0496 1)" font-size="27.5" font-weight="700" stroke="#000" stroke-width="0.85" stroke-linejoin="round">provincia</text>
<text transform="translate(42.84 115.50) scale(1.0000 1)" font-size="20.2" fill="#444" letter-spacing="-0.280">En euros</text>
<text transform="translate(93.45 215.50) scale(0.9809 1)" font-size="24.7" fill="#1c1c1c" letter-spacing="-0.300">A Coruña</text>
<text transform="translate(106.04 242.40) scale(1.2797 1)" font-size="23.6" font-weight="700" stroke="#000" stroke-width="0.4" stroke-linejoin="round">4.449</text>
<text transform="translate(490.31 185.90) scale(1.0000 1)" font-size="24.2" fill="#1c1c1c" letter-spacing="0.022">Lugo</text>
<text transform="translate(480.08 212.90) scale(1.2462 1)" font-size="24.0" font-weight="700" stroke="#000" stroke-width="0.4" stroke-linejoin="round">5.840</text>
<text transform="translate(71.69 601.40) scale(1.0000 1)" font-size="24.5" fill="#1c1c1c" letter-spacing="-0.078">Pontevedra</text>
<text transform="translate(99.58 629.20) scale(1.1772 1)" font-size="23.6" font-weight="700" stroke="#000" stroke-width="0.4" stroke-linejoin="round">4.318</text>
<text transform="translate(533.15 602.40) scale(0.9909 1)" font-size="24.5" fill="#1c1c1c" letter-spacing="-0.300">Ourense</text>
<text transform="translate(545.26 630.00) scale(1.1588 1)" font-size="23.6" font-weight="700" stroke="#000" stroke-width="0.4" stroke-linejoin="round">5.742</text>
<text transform="translate(659.06 131.20) scale(1.0558 1)" font-size="27.5" font-weight="700" stroke="#000" stroke-width="0.85" stroke-linejoin="round">Beneficios</text>
<text transform="translate(811.99 131.20) scale(1.0804 1)" font-size="27.5" font-weight="700" stroke="#000" stroke-width="0.85" stroke-linejoin="round">fiscales</text>
<text transform="translate(927.05 131.20) scale(1.2034 1)" font-size="27.5" font-weight="700" stroke="#000" stroke-width="0.85" stroke-linejoin="round">2025</text>
<text transform="translate(660.34 157.00) scale(1.0000 1)" font-size="20.2" fill="#444" letter-spacing="-0.126">En millones de €</text>
<text transform="translate(728.15 191.50) scale(1.0000 1)" font-size="22.5" fill="#2e2e2e" letter-spacing="0.361">Patrimonio</text>
<text transform="translate(781.83 218.90) scale(1.2168 1)" font-size="24.1" font-weight="700" stroke="#000" stroke-width="0.4" stroke-linejoin="round">38,8</text>
<text transform="translate(872.64 191.60) scale(0.8971 1)" font-size="22.5" fill="#2e2e2e" letter-spacing="-0.300">IRPF</text>
<text transform="translate(873.83 218.90) scale(1.2203 1)" font-size="24.1" font-weight="700" stroke="#000" stroke-width="0.4" stroke-linejoin="round">34,3</text>
<text transform="translate(959.65 191.60) scale(1.0000 1)" font-size="22.5" fill="#2e2e2e" letter-spacing="0.436">Juego</text>
<text transform="translate(960.56 218.90) scale(1.1506 1)" font-size="24.1" font-weight="700" stroke="#000" stroke-width="0.4" stroke-linejoin="round">3,2</text>
<text transform="translate(1041.48 232.00) scale(1.0000 1)" font-size="22.5" fill="#2e2e2e" letter-spacing="0.057">Sucesiones</text>
<text transform="translate(1042.45 253.90) scale(1.0000 1)" font-size="22.5" fill="#2e2e2e" letter-spacing="0.140">y Donaciones</text>
<text transform="translate(1041.82 281.40) scale(1.2243 1)" font-size="24.1" font-weight="700" stroke="#000" stroke-width="0.4" stroke-linejoin="round">302,4</text>
<text transform="translate(642.31 267.60) scale(1.0000 1)" font-size="22.0" fill="#2e2e2e" letter-spacing="0.246">Transmisiones</text>
<text transform="translate(641.00 290.00) scale(1.0000 1)" font-size="22.0" fill="#2e2e2e" letter-spacing="0.439">Patrimoniales</text>
<text transform="translate(642.75 311.80) scale(1.0000 1)" font-size="22.0" fill="#2e2e2e" letter-spacing="0.486">y Actos Jurídicos</text>
<text transform="translate(641.00 333.70) scale(1.0000 1)" font-size="22.0" fill="#2e2e2e" letter-spacing="0.734">Documentados</text>
<text transform="translate(642.11 360.70) scale(1.1489 1)" font-size="24.1" font-weight="700" stroke="#000" stroke-width="0.4" stroke-linejoin="round">76,3</text>
<text transform="translate(757.11 595.10) scale(0.9736 1)" font-size="22.5" fill="#2e2e2e" letter-spacing="-0.300">Tasas</text>
<text transform="translate(757.55 617.20) scale(1.0000 1)" font-size="22.5" fill="#2e2e2e" letter-spacing="0.029">y precios</text>
<text transform="translate(757.09 644.20) scale(1.0884 1)" font-size="24.1" font-weight="700" stroke="#000" stroke-width="0.4" stroke-linejoin="round">296,1</text>
<text transform="translate(914.70 423.50) scale(1.0300 1)" font-size="25.6" font-weight="700" stroke="#000" stroke-width="0.4" stroke-linejoin="round" letter-spacing="0.043">Total</text>
<text transform="translate(908.49 450.90) scale(0.9791 1)" font-size="24.1" font-weight="700" stroke="#000" stroke-width="0.4" stroke-linejoin="round">751,11</text>
<text transform="translate(45.50 742.90) scale(1.0651 1)" font-size="27.5" font-weight="700" stroke="#000" stroke-width="0.85" stroke-linejoin="round">Consellerías</text>
<text transform="translate(225.77 742.90) scale(1.0548 1)" font-size="27.5" font-weight="700" stroke="#000" stroke-width="0.85" stroke-linejoin="round">y</text>
<text transform="translate(248.11 742.90) scale(1.0625 1)" font-size="27.5" font-weight="700" stroke="#000" stroke-width="0.85" stroke-linejoin="round">entidades</text>
<text transform="translate(391.88 742.90) scale(1.0792 1)" font-size="27.5" font-weight="700" stroke="#000" stroke-width="0.85" stroke-linejoin="round">adscritas</text>
<text transform="translate(45.54 767.20) scale(1.0000 1)" font-size="20.2" fill="#444" letter-spacing="-0.140">En millones de €</text>
<text transform="translate(650.89 779.40) scale(1.1902 1)" font-size="22.0" font-weight="700" stroke="#000" stroke-width="0.3" stroke-linejoin="round">2024</text>
<text transform="translate(792.78 779.40) scale(1.2088 1)" font-size="22.0" font-weight="700" stroke="#000" stroke-width="0.3" stroke-linejoin="round">2025</text>
<text transform="translate(957.85 754.40) scale(1.0000 1)" font-size="22.6" font-weight="700" stroke="#000" stroke-width="0.3" stroke-linejoin="round" letter-spacing="-0.236">Var.</text>
<text transform="translate(1003.28 754.40) scale(1.1988 1)" font-size="22.2" font-weight="700" stroke="#000" stroke-width="0.3" stroke-linejoin="round">2025-24</text>
<text transform="translate(930.45 779.60) scale(1.0000 1)" font-size="22.2" fill="#2e2e2e" letter-spacing="0.812">Importe</text>
<text transform="translate(1081.68 779.60) scale(0.7821 1)" font-size="22.2" fill="#2e2e2e">%</text>
<text transform="translate(89.97 812.50) scale(1.0000 1)" font-size="21.8" fill="#2e2e2e" letter-spacing="0.538">Órganos superiores dependentes da Presidencia</text>
<text transform="translate(670.84 812.50) scale(0.9550 1)" font-size="22.6" fill="#2e2e2e">158,3</text>
<text transform="translate(810.44 812.50) scale(0.9550 1)" font-size="22.6" fill="#2e2e2e">168,1</text>
<text transform="translate(965.83 812.50) scale(0.9550 1)" font-size="22.6" fill="#2e2e2e">9,8</text>
<text transform="translate(1059.58 812.50) scale(0.9550 1)" font-size="22.6" fill="#2e2e2e">6,2%</text>
<text transform="translate(263.41 842.69) scale(1.0000 1)" font-size="21.8" fill="#2e2e2e" letter-spacing="0.489">Presidencia, Xustiza e Deportes</text>
<text transform="translate(670.84 842.69) scale(0.9550 1)" font-size="22.6" fill="#2e2e2e">577,3</text>
<text transform="translate(810.30 842.69) scale(0.9550 1)" font-size="22.6" fill="#2e2e2e">589,5</text>
<text transform="translate(953.98 842.69) scale(0.9550 1)" font-size="22.6" fill="#2e2e2e">12,2</text>
<text transform="translate(1059.58 842.69) scale(0.9550 1)" font-size="22.6" fill="#2e2e2e">2,1%</text>
<text transform="translate(216.21 872.88) scale(1.0000 1)" font-size="21.8" fill="#2e2e2e" letter-spacing="0.613">Medio Ambiente e Cambio Climático</text>
<text transform="translate(670.83 872.88) scale(0.9550 1)" font-size="22.6" fill="#2e2e2e">168,8</text>
<text transform="translate(810.48 872.88) scale(0.9550 1)" font-size="22.6" fill="#2e2e2e">186,2</text>
<text transform="translate(953.53 872.88) scale(0.9550 1)" font-size="22.6" fill="#2e2e2e">17,4</text>
<text transform="translate(1047.57 872.88) scale(0.9550 1)" font-size="22.6" fill="#2e2e2e">10,3%</text>
<text transform="translate(73.21 903.07) scale(1.0000 1)" font-size="21.8" fill="#2e2e2e" letter-spacing="0.411">Educación, Ciencia, Universidades e F. Profesional</text>
<text transform="translate(652.91 903.07) scale(0.9550 1)" font-size="22.6" fill="#2e2e2e">2.918,9</text>
<text transform="translate(792.48 903.07) scale(0.9550 1)" font-size="22.6" fill="#2e2e2e">3.041,2</text>
<text transform="translate(941.84 903.07) scale(0.9550 1)" font-size="22.6" fill="#2e2e2e">122,3</text>
<text transform="translate(1059.58 903.07) scale(0.9550 1)" font-size="22.6" fill="#2e2e2e">4,2%</text>
<text transform="translate(321.21 933.26) scale(1.0000 1)" font-size="21.8" fill="#2e2e2e" letter-spacing="0.397">Política Social e Igualdade</text>
<text transform="translate(652.84 933.26) scale(0.9550 1)" font-size="22.6" fill="#2e2e2e">1.222,3</text>
<text transform="translate(792.34 933.26) scale(0.9550 1)" font-size="22.6" fill="#2e2e2e">1.323,6</text>
<text transform="translate(941.98 933.26) scale(0.9550 1)" font-size="22.6" fill="#2e2e2e">101,2</text>
<text transform="translate(1059.58 933.26) scale(0.9550 1)" font-size="22.6" fill="#2e2e2e">8,3%</text>
<text transform="translate(374.71 963.45) scale(1.0000 1)" font-size="21.8" fill="#2e2e2e" letter-spacing="0.357">Economía e Industria</text>
<text transform="translate(670.84 963.45) scale(0.9550 1)" font-size="22.6" fill="#2e2e2e">348,6</text>
<text transform="translate(810.02 963.45) scale(0.9550 1)" font-size="22.6" fill="#2e2e2e">374,4</text>
<text transform="translate(953.83 963.45) scale(0.9550 1)" font-size="22.6" fill="#2e2e2e">25,8</text>
<text transform="translate(1059.58 963.45) scale(0.9550 1)" font-size="22.6" fill="#2e2e2e">7,4%</text>
<text transform="translate(242.91 993.64) scale(1.0000 1)" font-size="21.8" fill="#2e2e2e" letter-spacing="0.484">Facenda e Administración Pública</text>
<text transform="translate(670.94 993.64) scale(0.9550 1)" font-size="22.6" fill="#2e2e2e">255,1</text>
<text transform="translate(810.44 993.64) scale(0.9550 1)" font-size="22.6" fill="#2e2e2e">257,1</text>
<text transform="translate(965.74 993.64) scale(0.9550 1)" font-size="22.6" fill="#2e2e2e">2,0</text>
<text transform="translate(1059.58 993.64) scale(0.9550 1)" font-size="22.6" fill="#2e2e2e">0,8%</text>
<text transform="translate(163.20 1023.83) scale(1.0000 1)" font-size="21.8" fill="#2e2e2e" letter-spacing="0.555">Vivenda e Planificación de Infraestruturas</text>
<text transform="translate(670.98 1023.83) scale(0.9550 1)" font-size="22.6" fill="#2e2e2e">475,2</text>
<text transform="translate(810.44 1023.83) scale(0.9550 1)" font-size="22.6" fill="#2e2e2e">513,1</text>
<text transform="translate(953.92 1023.83) scale(0.9550 1)" font-size="22.6" fill="#2e2e2e">37,9</text>
<text transform="translate(1059.58 1023.83) scale(0.9550 1)" font-size="22.6" fill="#2e2e2e">8,0%</text>
<text transform="translate(493.51 1054.02) scale(1.0000 1)" font-size="21.8" fill="#2e2e2e" letter-spacing="0.404">Sanidade</text>
<text transform="translate(652.84 1054.02) scale(0.9550 1)" font-size="22.6" fill="#2e2e2e">5.202,6</text>
<text transform="translate(792.34 1054.02) scale(0.9550 1)" font-size="22.6" fill="#2e2e2e">5.457,6</text>
<text transform="translate(941.73 1054.02) scale(0.9550 1)" font-size="22.6" fill="#2e2e2e">255,0</text>
<text transform="translate(1059.58 1054.02) scale(0.9550 1)" font-size="22.6" fill="#2e2e2e">4,9%</text>
<text transform="translate(299.19 1084.21) scale(1.0000 1)" font-size="21.8" fill="#2e2e2e" letter-spacing="0.498">Cultura, Lingua e Xuventude</text>
<text transform="translate(670.52 1084.21) scale(0.9550 1)" font-size="22.6" fill="#2e2e2e">136,4</text>
<text transform="translate(810.34 1084.21) scale(0.9550 1)" font-size="22.6" fill="#2e2e2e">146,6</text>
<text transform="translate(953.98 1084.21) scale(0.9550 1)" font-size="22.6" fill="#2e2e2e">10,2</text>
<text transform="translate(1059.58 1084.21) scale(0.9550 1)" font-size="22.6" fill="#2e2e2e">7,5%</text>
<text transform="translate(248.71 1114.40) scale(1.0000 1)" font-size="21.8" fill="#2e2e2e" letter-spacing="0.451">Emprego, Comercio e Emigración</text>
<text transform="translate(670.80 1114.40) scale(0.9550 1)" font-size="22.6" fill="#2e2e2e">497,5</text>
<text transform="translate(810.30 1114.40) scale(0.9550 1)" font-size="22.6" fill="#2e2e2e">497,5</text>
<text transform="translate(965.74 1114.40) scale(0.9550 1)" font-size="22.6" fill="#2e2e2e">0,0</text>
<text transform="translate(1059.58 1114.40) scale(0.9550 1)" font-size="22.6" fill="#2e2e2e">0,0%</text>
<text transform="translate(460.91 1144.59) scale(1.0000 1)" font-size="21.8" fill="#2e2e2e" letter-spacing="0.352">Medio Rural</text>
<text transform="translate(670.73 1144.59) scale(0.9550 1)" font-size="22.6" fill="#2e2e2e">679,0</text>
<text transform="translate(810.48 1144.59) scale(0.9550 1)" font-size="22.6" fill="#2e2e2e">701,2</text>
<text transform="translate(953.98 1144.59) scale(0.9550 1)" font-size="22.6" fill="#2e2e2e">22,2</text>
<text transform="translate(1059.58 1144.59) scale(0.9550 1)" font-size="22.6" fill="#2e2e2e">3,3%</text>
<text transform="translate(550.51 1174.78) scale(1.0000 1)" font-size="21.8" fill="#2e2e2e" letter-spacing="-0.097">Mar</text>
<text transform="translate(670.83 1174.78) scale(0.9550 1)" font-size="22.6" fill="#2e2e2e">214,8</text>
<text transform="translate(810.33 1174.78) scale(0.9550 1)" font-size="22.6" fill="#2e2e2e">220,8</text>
<text transform="translate(965.74 1174.78) scale(0.9550 1)" font-size="22.6" fill="#2e2e2e">6,0</text>
<text transform="translate(1059.58 1174.78) scale(0.9550 1)" font-size="22.6" fill="#2e2e2e">2,8%</text>
<text transform="translate(47.55 1205.27) scale(1.0283 1)" font-size="21.6" font-weight="700" stroke="#000" stroke-width="0.6" stroke-linejoin="round" letter-spacing="-0.300">TOTAL GASTOS NO FINANCIEROS CONSELLERÍAS</text>
<text transform="translate(625.91 1205.27) scale(1.1500 1)" font-size="22.1" font-weight="700" stroke="#000" stroke-width="0.55" stroke-linejoin="round">12.854,9</text>
<text transform="translate(765.41 1205.27) scale(1.1500 1)" font-size="22.1" font-weight="700" stroke="#000" stroke-width="0.55" stroke-linejoin="round">13.476,9</text>
<text transform="translate(932.34 1205.27) scale(1.1500 1)" font-size="22.1" font-weight="700" stroke="#000" stroke-width="0.55" stroke-linejoin="round">622,0</text>
<text transform="translate(1050.74 1205.27) scale(1.1500 1)" font-size="22.1" font-weight="700" stroke="#000" stroke-width="0.55" stroke-linejoin="round">4,8%</text>
<text transform="translate(150.71 1235.16) scale(1.0000 1)" font-size="21.8" fill="#2e2e2e" letter-spacing="0.670">Resto de secciones y órganos estatutarios</text>
<text transform="translate(670.73 1235.16) scale(0.9550 1)" font-size="22.6" fill="#2e2e2e">745,0</text>
<text transform="translate(810.23 1235.16) scale(0.9550 1)" font-size="22.6" fill="#2e2e2e">477,0</text>
<text transform="translate(934.72 1235.16) scale(0.9550 1)" font-size="22.6" fill="#2e2e2e">-267,9</text>
<text transform="translate(1040.38 1235.16) scale(0.9550 1)" font-size="22.6" fill="#2e2e2e">-36,0%</text>
<text transform="translate(222.25 1265.65) scale(1.0300 1)" font-size="21.6" font-weight="700" stroke="#000" stroke-width="0.6" stroke-linejoin="round" letter-spacing="-0.267">TOTAL GASTOS NO FINANCIEROS</text>
<text transform="translate(625.75 1265.65) scale(1.1500 1)" font-size="22.1" font-weight="700" stroke="#000" stroke-width="0.55" stroke-linejoin="round">13.599,8</text>
<text transform="translate(765.41 1265.65) scale(1.1500 1)" font-size="22.1" font-weight="700" stroke="#000" stroke-width="0.55" stroke-linejoin="round">13.953,9</text>
<text transform="translate(932.01 1265.65) scale(1.1500 1)" font-size="22.1" font-weight="700" stroke="#000" stroke-width="0.55" stroke-linejoin="round">354,1</text>
<text transform="translate(1050.74 1265.65) scale(1.1500 1)" font-size="22.1" font-weight="700" stroke="#000" stroke-width="0.55" stroke-linejoin="round">2,6%</text>
</svg>
</body></html>
